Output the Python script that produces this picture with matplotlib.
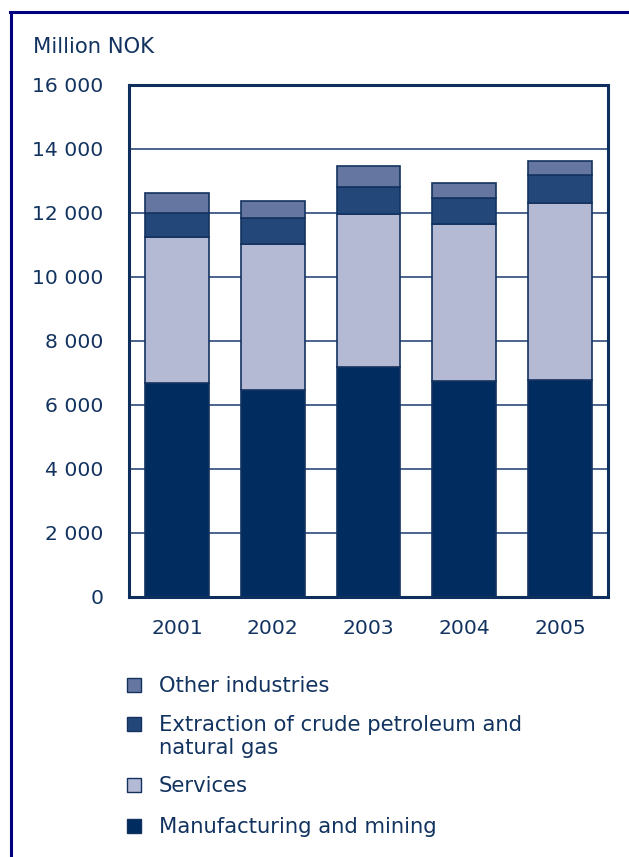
import matplotlib
matplotlib.use("Agg")
import matplotlib.pyplot as plt
from matplotlib.patches import Rectangle
from matplotlib.lines import Line2D
import numpy as np

# Data (million NOK)
years = ["2001", "2002", "2003", "2004", "2005"]
manufacturing = [6690, 6470, 7180, 6740, 6790]
services = [4550, 4570, 4790, 4925, 5520]
extraction = [750, 800, 850, 810, 875]
other = [625, 530, 650, 460, 445]

series_names = ["Manufacturing and mining", "Services",
                "Extraction of crude petroleum and\nnatural gas", "Other industries"]
series_values = [manufacturing, services, extraction, other]
series_colors = ["#002c5f", "#b4b9d4", "#234779", "#6577a1"]

yticks = [0, 2000, 4000, 6000, 8000, 10000, 12000, 14000, 16000]
ytick_labels = ["0", "2 000", "4 000", "6 000", "8 000", "10 000", "12 000", "14 000", "16 000"]

text_color = "#12335f"
edge_color = "#14325f"
fs = 14.6
fs_text = 15.2

fig = plt.figure(figsize=(6.29, 8.57), dpi=100)
W, H = 629, 857

ax = fig.add_axes([129 / W, 1 - 597 / H, (608 - 129) / W, (597 - 85) / H])

x = np.arange(len(years))
bottom = np.zeros(len(years))
for vals, col in zip(series_values, series_colors):
    ax.bar(x, vals, width=0.667, bottom=bottom, color=col,
           edgecolor=edge_color, linewidth=1.2, zorder=3)
    bottom += np.array(vals)

ax.set_xlim(-0.5, len(years) - 0.5)
ax.set_ylim(0, 16000)
ax.set_yticks(yticks)
ax.set_yticklabels(ytick_labels)
ax.set_xticks(x)
ax.set_xticklabels(years)
ax.tick_params(axis="both", length=0, labelsize=fs, colors=text_color)
ax.tick_params(axis="y", pad=18.5)
ax.tick_params(axis="x", pad=16)
ax.yaxis.grid(True, color="#2b4a7a", linewidth=1.2, zorder=1)
ax.set_axisbelow(True)
for sp in ax.spines.values():
    sp.set_color("#0e2f5e")
    sp.set_linewidth(2.2)

fig.text(33 / W, 1 - 47 / H, "Million NOK", fontsize=fs_text, color=text_color,
         ha="left", va="center")

# Legend: squares with labels, top entry first
legend_rows = [
    (3, 685),
    (2, 724),
    (1, 785),
    (0, 826),
]
sq = 14
for idx, yc in legend_rows:
    fig.patches.append(Rectangle((127 / W, 1 - (yc + sq / 2) / H), sq / W, sq / H,
                                 transform=fig.transFigure, facecolor=series_colors[idx],
                                 edgecolor=edge_color, linewidth=1.0))
    fig.text(159 / W, 1 - (yc - 9) / H, series_names[idx], fontsize=fs_text,
             color=text_color, ha="left", va="top", linespacing=1.2)

# Outer frame lines (left and top)
frame_col = "#00007f"
fig.add_artist(Line2D([11 / W, 11 / W], [0, 1 - 12 / H], transform=fig.transFigure,
                      color=frame_col, linewidth=2.2))
fig.add_artist(Line2D([10 / W, 1], [1 - 12 / H, 1 - 12 / H], transform=fig.transFigure,
                      color=frame_col, linewidth=2.2))

fig.savefig("out.png", dpi=100)
